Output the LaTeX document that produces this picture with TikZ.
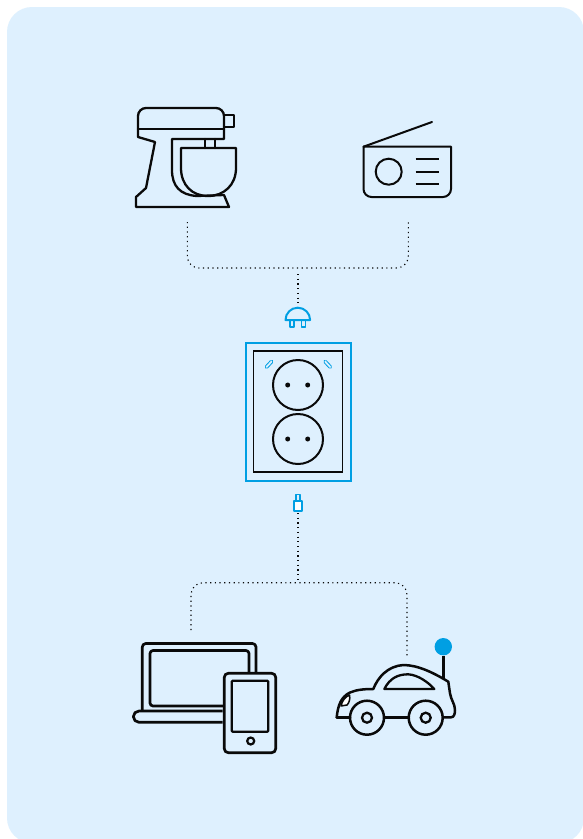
\documentclass[tikz,border=0pt]{standalone}
\usepackage{xcolor}
\usetikzlibrary{positioning}
\definecolor{panel}{HTML}{DEF0FE}
\definecolor{accent}{HTML}{009FE3}
\definecolor{ink}{HTML}{0A0A0A}
\tikzset{
  icon/.style={draw=ink, line width=2.3pt, line join=round, line cap=round},
  thin icon/.style={draw=ink, line width=2pt, line join=round, line cap=round},
  accentline/.style={draw=accent, line width=2pt, line join=round},
  ledmark/.style={draw=accent, line width=1pt, double=panel, double distance=1.8pt, line cap=round},
  wire/.style={draw=ink, line width=1.1pt, dash pattern=on 1.2pt off 3.5pt},
  busline/.style={wire, rounded corners=12pt},
  pin/.style={circle, fill=ink, minimum size=5pt, inner sep=0pt},
  hole/.style={circle, draw=ink, line width=2pt, inner sep=0pt},
}
\begin{document}
\begin{tikzpicture}[x=1pt, y=-1pt]
\useasboundingbox (0,0) rectangle (582,839);
\fill[white] (0,0) rectangle (582,839);
\fill[panel, rounded corners=25pt] (7,7) rectangle (584,843);

% mixer
\draw[icon] (224,139) -- (224,116) arc[start angle=0, end angle=-90, radius=8] -- (146,108) arc[start angle=-90, end angle=-180, radius=8] -- (138,137) -- (155,142) -- (146,188) -- (136,197) -- (136,207) -- (229,207) -- (224,195) -- (197,196) .. controls (180,195) and (172,186) .. (172,170) -- (172,139) -- cycle;
\draw[icon] (138,129) -- (224,129);
\draw[icon] (224,115) rectangle (234,127);
\draw[icon] (205,139) -- (205,148) (215,139) -- (215,148);
\draw[icon] (181,148) -- (236,148) -- (236,168) .. controls (236,185) and (224,196) .. (208,196) .. controls (192,196) and (181,185) .. (181,168) -- cycle;

% radio
\draw[thin icon] (432,122) -- (363.5,146.7);
\draw[thin icon] (363.5,146.7) -- (451,146.7) -- (451,189) arc[start angle=0, end angle=90, radius=8] -- (371.5,197) arc[start angle=90, end angle=180, radius=8] -- cycle;
\node[hole, minimum size=26pt] (dial) at (388.7,171.7) {};
\draw[thin icon, line cap=butt] (415.7,159) -- (439,159) (415.7,171.7) -- (439,171.7) (415.7,184) -- (439,184);

% connectors above the socket
\coordinate (mixerout) at (187.3,222);
\coordinate (radioout) at (408.3,222);
\coordinate (topjoin) at (298,268);
\coordinate (plugin) at (298,274);
\coordinate (plugtop) at (298,306);
\draw[busline] (mixerout) |- (topjoin) -| (radioout);
\draw[wire] (plugin) -- (plugtop);

% plug
\draw[accentline, line cap=round] (285.5,320) arc[start angle=180, end angle=360, radius=12.3] -- cycle;
\draw[accentline, line width=1.7pt] (290,320.5) rectangle (294,327.3);
\draw[accentline, line width=1.7pt] (301.5,320.5) rectangle (305.5,327.3);

% socket
\node[draw=accent, line width=2pt, minimum width=105pt, minimum height=138pt, inner sep=0pt] (frame) at (298,412) {};
\node[draw=ink, line width=1.9pt, minimum width=89pt, minimum height=121.5pt, inner sep=0pt] (plate) at (298,411.5) {};
\node[hole, minimum size=50pt] (upper) at (298,385) {};
\node[hole, minimum size=50pt] (lower) at (298,439) {};
\node[pin] (upperl) at (287.7,385) {};
\node[pin] (upperr) at (307.7,385) {};
\node[pin] (lowerl) at (287.7,439) {};
\node[pin] (lowerr) at (307.7,439) {};
\draw[ledmark] (266.5,367) -- (271.5,361.6);
\draw[ledmark] (325.2,361.6) -- (330.2,367);

% usb end
\draw[accentline, fill=white] (294.3,501) rectangle (301.7,510.7);
\draw[accentline, line width=1.5pt] (296,494.5) rectangle (300,501);

% connectors below the socket
\coordinate (usbout) at (298,513);
\coordinate (lowjoin) at (298,579);
\coordinate (busmid) at (298,582.7);
\coordinate (laptopin) at (191,630);
\coordinate (carin) at (407,658);
\draw[wire] (usbout) -- (lowjoin);
\draw[busline] (laptopin) |- (busmid) -| (carin);

% laptop
\draw[icon, line width=2.7pt, line cap=butt] (142.3,710) -- (142.3,647) arc[start angle=180, end angle=270, radius=3.5] -- (252.5,643.5) arc[start angle=270, end angle=360, radius=3.5] -- (256,672.5);
\draw[icon, line width=2.7pt, line cap=butt] (223,706) -- (153,706) arc[start angle=90, end angle=180, radius=3] -- (150,653.5) arc[start angle=180, end angle=270, radius=3] -- (246,650.5) arc[start angle=-90, end angle=0, radius=3] -- (249,672.5);
\draw[icon, line width=2.7pt, line cap=butt] (222.7,711) -- (139,711) arc[start angle=-90, end angle=-270, radius=5.65] -- (222.7,722.3);

% tablet
\draw[icon, line width=2.7pt, rounded corners=4pt] (224.3,673.3) rectangle (275.7,752.7);
\draw[icon, rounded corners=1pt] (231.7,680.7) rectangle (268.3,731.7);
\node[hole, line width=2.2pt, minimum size=7pt] (homekey) at (250.7,741) {};

% car
\draw[icon, line width=2.5pt] (336.7,717.3) .. controls (338,705) and (341,697) .. (350,692.5) .. controls (357,689.5) and (365,689) .. (373.3,689) .. controls (378,677) and (388,666) .. (403.3,665) .. controls (418,665) and (434,673) .. (448.3,681.7) -- (450,693.3) .. controls (451,700) and (455,704) .. (455,710) .. controls (455,714) and (454,717.3) .. (451,717.3) -- (443.3,717.3);
\draw[icon, line width=2.5pt] (336.7,717.3) -- (350,717.3) (384.3,717.3) -- (408.3,717.3);
\draw[icon] (384.3,689) .. controls (390,678) and (398,674.3) .. (408.3,674.3) .. controls (418,675) and (428,682) .. (434.3,689) -- cycle;
\draw[thin icon, line width=1.5pt, fill=white] (341,706) .. controls (342,701) and (345,697) .. (349.5,695) .. controls (350.5,699) and (349,703) .. (347,705) -- cycle;
\node[hole, line width=2.5pt, minimum size=34pt] (frontwheel) at (367,717.7) {};
\node[hole, line width=2.5pt, minimum size=34pt] (rearwheel) at (425.7,717.7) {};
\node[hole, line width=2.3pt, minimum size=10pt] (fronthub) at (367,717.7) {};
\node[hole, line width=2.3pt, minimum size=10pt] (rearhub) at (425.7,717.7) {};
\node[circle, fill=accent, minimum size=17.4pt, inner sep=0pt] (beacon) at (443.3,646.7) {};
\draw[icon, line width=2.7pt, line cap=butt] (beacon) -- (443.3,679);
\end{tikzpicture}
\end{document}
